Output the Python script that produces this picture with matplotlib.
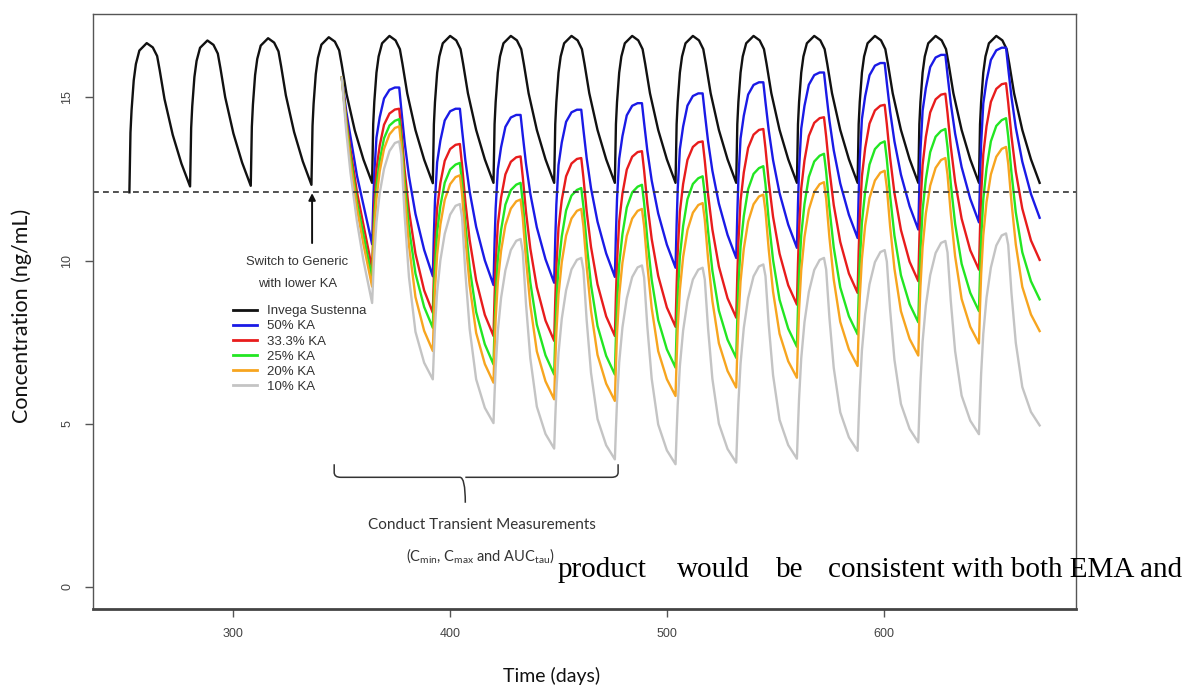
import matplotlib.pyplot as plt
from matplotlib.lines import Line2D
from matplotlib.path import Path
from matplotlib.patches import PathPatch

plt.rcParams["mathtext.fontset"] = "custom"
plt.rcParams["mathtext.rm"] = "Lato"
plt.rcParams["mathtext.it"] = "Lato:italic"

# Injection days (every 28 days)
brand_doses = [252, 280, 308, 336, 364, 392, 420, 448, 476, 504, 532, 560, 588, 616, 644, 672]
generic_doses = [364, 392, 420, 448, 476, 504, 532, 560, 588, 616, 644, 672]

# Invega Sustenna: trough at each injection day, peak within each interval
brand_trough = [12.09, 12.27, 12.29, 12.32, 12.38, 12.37, 12.38, 12.38, 12.38,
                12.38, 12.38, 12.38, 12.38, 12.38, 12.38, 12.38]
brand_peak = [16.66, 16.74, 16.81, 16.84, 16.88, 16.88, 16.88, 16.88, 16.88,
              16.88, 16.88, 16.88, 16.88, 16.88, 16.88]

# Generic products with reduced absorption rate (switch after day 350)
lead_days = [350, 352, 354, 357, 360]
lead_blue = [15.6, 14.6, 13.8, 12.6, 11.7]
lead_red = [15.6, 14.4, 13.4, 12.1, 11.1]
lead_green = [15.6, 14.3, 13.2, 11.8, 10.8]
lead_orange = [15.6, 14.2, 13.0, 11.6, 10.5]
lead_gray = [15.6, 14.0, 12.7, 11.2, 10.0]

trough_blue = [10.50, 9.52, 9.25, 9.32, 9.50, 9.78, 10.08, 10.39, 10.69, 10.95, 11.17, 11.31]
trough_red = [9.75, 8.40, 7.69, 7.54, 7.69, 7.97, 8.25, 8.65, 9.01, 9.37, 9.72, 10.02]
trough_green = [9.45, 7.94, 6.82, 6.51, 6.51, 6.72, 7.02, 7.36, 7.74, 8.11, 8.45, 8.81]
trough_orange = [9.20, 7.23, 6.26, 5.75, 5.70, 5.85, 6.11, 6.41, 6.77, 7.09, 7.46, 7.84]
trough_gray = [8.70, 6.36, 5.02, 4.24, 3.91, 3.76, 3.81, 3.93, 4.17, 4.43, 4.68, 4.95]

peak_blue = [15.30, 14.65, 14.46, 14.62, 14.82, 15.12, 15.46, 15.76, 16.05, 16.30, 16.52]
peak_red = [14.65, 13.57, 13.19, 13.14, 13.35, 13.65, 14.03, 14.39, 14.77, 15.11, 15.43]
peak_green = [14.33, 12.99, 12.38, 12.22, 12.32, 12.58, 12.89, 13.27, 13.65, 14.03, 14.36]
peak_orange = [14.11, 12.61, 11.87, 11.58, 11.58, 11.76, 12.02, 12.40, 12.75, 13.14, 13.48]
peak_gray = [13.65, 11.73, 10.66, 10.08, 9.85, 9.78, 9.88, 10.08, 10.32, 10.60, 10.83]

# Within-interval profile: days after injection and fraction of the swing
brand_offsets = [0, 0.5, 1, 2, 3, 4.6, 8, 10.8, 12.8, 14, 16.2, 20, 24, 28]
brand_frac = [0, 0.4, 0.55, 0.75, 0.86, 0.95, 1.0, 0.97, 0.91, 0.81, 0.61, 0.36, 0.16, 0]
brand_peak_idx = 6

generic_offsets = [0, 0.5, 1, 2, 3.5, 5.5, 8, 10.5, 12.5, 13.5, 15, 17, 20, 24, 28]
generic_peak_idx = 8
frac_blue = [0, 0.25, 0.45, 0.68, 0.81, 0.93, 0.985, 1.0, 1.0, 0.88, 0.71, 0.53, 0.33, 0.14, 0]
frac_red = [0, 0.22, 0.40, 0.62, 0.77, 0.90, 0.97, 0.995, 1.0, 0.89, 0.70, 0.50, 0.29, 0.11, 0]
frac_green = [0, 0.2, 0.37, 0.58, 0.74, 0.88, 0.96, 0.99, 1.0, 0.90, 0.70, 0.48, 0.26, 0.10, 0]
frac_orange = [0, 0.19, 0.35, 0.55, 0.72, 0.86, 0.95, 0.99, 1.0, 0.91, 0.70, 0.47, 0.24, 0.09, 0]
frac_gray = [0, 0.16, 0.30, 0.50, 0.68, 0.83, 0.94, 0.99, 1.0, 0.94, 0.69, 0.43, 0.20, 0.07, 0]

legend_labels = ["Invega Sustenna", "50% KA", "33.3% KA", "25% KA", "20% KA", "10% KA"]
colors = ["#111111", "#1a1ae6", "#e81c1c", "#22e622", "#f7a51f", "#c4c4c4"]
mec_level = 12.1


def build_curve(doses, troughs, peaks, offsets, frac, peak_idx):
    days, conc = [], []
    n = len(doses) - 1
    for i in range(n):
        for j, (off, f) in enumerate(zip(offsets, frac)):
            if j == len(offsets) - 1 and i < n - 1:
                continue
            base = troughs[i] if j <= peak_idx else troughs[i + 1]
            days.append(doses[i] + off)
            conc.append(base + f * (peaks[i] - base))
    return days, conc


fig = plt.figure(figsize=(11.89, 6.86), dpi=100)
ax = fig.add_axes([0.0782, 0.1122, 0.8268, 0.8673])

bx, by = build_curve(brand_doses, brand_trough, brand_peak, brand_offsets, brand_frac, brand_peak_idx)
ax.plot(bx, by, color=colors[0], lw=1.7, solid_joinstyle="round")

generic = [
    (lead_blue, trough_blue, peak_blue, frac_blue),
    (lead_red, trough_red, peak_red, frac_red),
    (lead_green, trough_green, peak_green, frac_green),
    (lead_orange, trough_orange, peak_orange, frac_orange),
    (lead_gray, trough_gray, peak_gray, frac_gray),
]
for (lead, tr, pk, fr), col in zip(generic, colors[1:]):
    gx, gy = build_curve(generic_doses, tr, pk, generic_offsets, fr, generic_peak_idx)
    ax.plot(lead_days + gx, lead + gy, color=col, lw=1.7, solid_joinstyle="round")

ax.axhline(mec_level, color="#333333", lw=1.2, dashes=(3.5, 2.5))

ax.set_xlim(235.2, 688.8)
ax.set_ylim(-0.675, 17.55)
ax.set_xticks([300, 400, 500, 600])
ax.set_yticks([0, 5, 10, 15])
ax.tick_params(length=6, width=1, color="#555555", labelcolor="#444444", labelsize=9, pad=8)
for lbl in ax.get_yticklabels():
    lbl.set_rotation(90)
    lbl.set_va("center")
    lbl.set_family("Liberation Sans")
for lbl in ax.get_xticklabels():
    lbl.set_family("Liberation Sans")
for name, sp in ax.spines.items():
    sp.set_color("#555555")
    sp.set_linewidth(1.0)
ax.spines["bottom"].set_linewidth(2.0)
ax.spines["bottom"].set_color("#444444")

fig.text(0.0185, 1 - 316 / 686, "Concentration (ng/mL)", rotation=90, ha="center", va="center",
         family="Lato", fontsize=15.5, color="#111111")
fig.text(0.4643, 0.015, "Time (days)", ha="center", va="center",
         family="Lato", fontsize=14, color="#111111")

# switch annotation
ax.annotate("", xy=(336.3, 12.15), xytext=(336.3, 10.45),
            arrowprops=dict(arrowstyle="-|>", color="#111111", lw=1.4, mutation_scale=10))
ax.text(329.5, 9.97, "Switch to Generic", ha="center", va="center",
        family="Liberation Sans", fontsize=9.4, color="#333333")
ax.text(329.5, 9.27, "with lower KA", ha="center", va="center",
        family="Liberation Sans", fontsize=9.4, color="#333333")

handles = [Line2D([], [], color=c, lw=2) for c in colors]
leg = ax.legend(handles, legend_labels, loc="upper left", bbox_to_anchor=(233 / 1189, 1 - 305 / 686),
                bbox_transform=fig.transFigure, frameon=False, borderpad=0, borderaxespad=0,
                handlelength=1.85, handletextpad=0.75, labelspacing=0.22,
                prop={"family": "Liberation Sans", "size": 9.5})
for t in leg.get_texts():
    t.set_color("#333333")

# curly brace under the transient interval
x0, x1, xm = 346.5, 477.5, 407.0
y_top, y_bar, y_tip = 3.76, 3.36, 2.58
c = 0.25
verts = [(x0, y_top), (x0, y_bar + c * 0.6), (x0, y_bar), (x0 + 3, y_bar),
         (xm - 2.5, y_bar), (xm, y_bar), (xm, y_tip),
         (xm, y_bar), (xm + 2.5, y_bar),
         (x1 - 3, y_bar), (x1, y_bar), (x1, y_bar + c * 0.6), (x1, y_top)]
codes = [Path.MOVETO, Path.LINETO, Path.CURVE3, Path.CURVE3,
         Path.LINETO, Path.CURVE3, Path.CURVE3,
         Path.MOVETO, Path.LINETO,
         Path.LINETO, Path.CURVE3, Path.CURVE3, Path.LINETO]
ax.add_patch(PathPatch(Path(verts, codes), fill=False, lw=1.1, color="#333333"))

ax.text(414.5, 1.9, "Conduct Transient Measurements", ha="center", va="center",
        family="Lato", fontsize=11, color="#333333")
ax.text(414.0, 0.95, r"(C$_{\mathrm{min}}$, C$_{\mathrm{max}}$ and AUC$_{\mathrm{tau}}$)", ha="center",
        va="center", family="Lato", fontsize=10.5, color="#333333")

# body text that runs across the figure
words = ["product", "would", "be", "consistent with both EMA and"]
word_x = [558, 677, 776, 828]
for w, wx in zip(words, word_x):
    fig.text(wx / 1189, 1 - 577 / 686, w, ha="left", va="baseline",
             family="Liberation Serif", fontsize=21, color="#000000")

fig.savefig("out.png", dpi=100, facecolor="white")
